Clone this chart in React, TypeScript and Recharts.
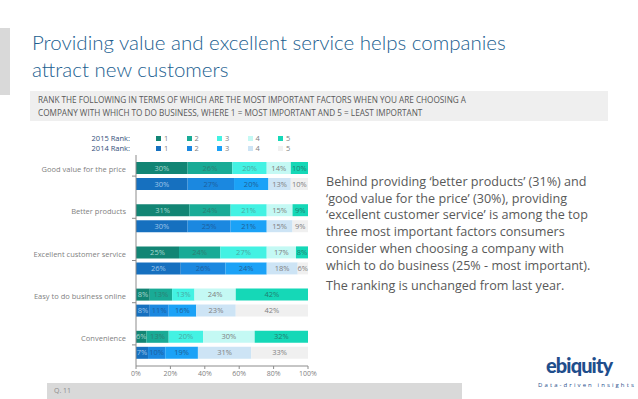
import React from 'react';
import { BarChart, Bar, XAxis, YAxis, LabelList } from 'recharts';

// categories and rank shares (%)
const categories = [
  'Good value for the price',
  'Better products',
  'Excellent customer service',
  'Easy to do business online',
  'Convenience',
];
const rank2015 = [
  [30, 26, 20, 14, 10],
  [31, 24, 21, 15, 9],
  [25, 24, 27, 17, 8],
  [8, 13, 13, 24, 42],
  [6, 13, 20, 30, 32],
];
const rank2014 = [
  [30, 27, 20, 13, 10],
  [30, 25, 21, 15, 9],
  [26, 26, 24, 18, 6],
  [8, 11, 16, 23, 42],
  [7, 10, 19, 31, 33],
];
const rankLabels = ['1', '2', '3', '4', '5'];
const xTicks = [0, 20, 40, 60, 80, 100];

const colors2015 = ['#128574', '#19ab96', '#43f2e3', '#c4f9f4', '#15d8b7'];
const colors2014 = ['#1670bf', '#1b88e0', '#1ba2f7', '#cde4f5', '#f0f0f0'];
const text2015 = ['#a6d8d0', '#2d7f74', '#4aa9a1', '#808080', '#207f70'];
const text2014 = ['#9fc6ea', '#1d5f9e', '#1f5f96', '#808080', '#808080'];

const data = categories.map((name, i) => {
  const row: Record<string, any> = { name };
  rank2015[i].forEach((v, k) => (row[`a${k}`] = v));
  rank2014[i].forEach((v, k) => (row[`b${k}`] = v));
  return row;
});

const font = '"Open Sans", "Noto Sans", sans-serif';

const CatTick = (props: any) => {
  const { x, y, payload } = props;
  return (
    <text x={x - 4} y={y - 7} textAnchor="end" dominantBaseline="central" fontSize={7.5} fill="#7f7f7f" fontFamily={font}>
      {payload.value}
    </text>
  );
};

const Legend: React.FC = () => {
  const row = (title: string, cols: string[], top: number) => (
    <div style={{ position: 'absolute', left: 60, top, height: 10, width: 260, fontSize: 7.5, lineHeight: '10px', color: '#33507a' }}>
      <span style={{ position: 'absolute', right: 190, whiteSpace: 'nowrap' }}>{title}</span>
      {rankLabels.map((r, k) => (
        <span key={r} style={{ position: 'absolute', left: 96 + k * 30.5, whiteSpace: 'nowrap', color: '#7f7f7f' }}>
          <span style={{ display: 'inline-block', width: 5, height: 5, background: cols[k], marginRight: 3 }} />
          {r}
        </span>
      ))}
    </div>
  );
  return (
    <>
      {row('2015 Rank:', colors2015, 133)}
      {row('2014 Rank:', colors2014, 143)}
    </>
  );
};

const App: React.FC = () => {
  return (
    <div style={{ position: 'fixed', left: 0, top: 0, width: 638, height: 399, background: '#fff', overflow: 'hidden', fontFamily: font }}>
      <div style={{ position: 'absolute', left: 0, top: 28, width: 10, height: 67, background: '#d9d9d9' }} />
      <div style={{ position: 'absolute', left: 32, top: 29, fontSize: 20.5, lineHeight: '27px', color: '#215e8f', fontWeight: 300, whiteSpace: 'nowrap', fontFamily: 'Lato, "Open Sans", sans-serif' }}>
        Providing value and excellent service helps companies
        <br />
        attract new customers
      </div>
      <div style={{ position: 'absolute', left: 30, top: 91, width: 578, height: 30, background: '#efefef' }} />
      <div style={{ position: 'absolute', left: 38, top: 93, fontSize: 8.2, lineHeight: '13px', color: '#595959', whiteSpace: 'nowrap' }}>
        RANK THE FOLLOWING IN TERMS OF WHICH ARE THE MOST IMPORTANT FACTORS WHEN YOU ARE CHOOSING A
        <br />
        COMPANY WITH WHICH TO DO BUSINESS, WHERE 1 = MOST IMPORTANT AND 5 = LEAST IMPORTANT
      </div>
      <Legend />
      <div style={{ position: 'absolute', left: 0, top: 150 }}>
        <BarChart
          width={320}
          height={240}
          data={data}
          layout="vertical"
          margin={{ top: 5, right: 12, left: 0, bottom: 4 }}
          barSize={12}
          barGap={4}
        >
          <XAxis
            type="number"
            domain={[0, 100]}
            ticks={xTicks}
            allowDataOverflow
            tickFormatter={(v: number) => `${v}%`}
            tick={{ fontSize: 7, fill: '#7f7f7f', fontFamily: font }}
            stroke="#8c8c8c"
            tickSize={3}
            height={20}
          />
          <YAxis
            type="category"
            dataKey="name"
            width={136}
            tick={<CatTick />}
            stroke="#8c8c8c"
            tickSize={4}
            interval={0}
          />
          {rankLabels.map((r, k) => (
            <Bar key={`a${k}`} dataKey={`a${k}`} stackId="y2015" fill={colors2015[k]} isAnimationActive={false}>
              <LabelList dataKey={`a${k}`} position="center" formatter={(v: any) => `${v}%`} fontSize={7.5} fill={text2015[k]} fontFamily={font} />
            </Bar>
          ))}
          {rankLabels.map((r, k) => (
            <Bar key={`b${k}`} dataKey={`b${k}`} stackId="y2014" fill={colors2014[k]} isAnimationActive={false}>
              <LabelList dataKey={`b${k}`} position="center" formatter={(v: any) => `${v}%`} fontSize={7.5} fill={text2014[k]} fontFamily={font} />
            </Bar>
          ))}
        </BarChart>
      </div>
      <div style={{ position: 'absolute', left: 326, top: 174, fontSize: 12.6, lineHeight: '16.7px', color: '#595959', whiteSpace: 'nowrap' }}>
        Behind providing ‘better products’ (31%) and
        <br />
        ‘good value for the price’ (30%), providing
        <br />
        ‘excellent customer service’ is among the top
        <br />
        three most important factors consumers
        <br />
        consider when choosing a company with
        <br />
        which to do business (25% - most important).
        <div style={{ marginTop: 4 }}>The ranking is unchanged from last year.</div>
      </div>
      <div style={{ position: 'absolute', left: 47, top: 383, width: 415, height: 16, background: '#d9d9d9' }} />
      <div style={{ position: 'absolute', left: 54, top: 385, fontSize: 7, lineHeight: '12px', color: '#8c8c8c' }}>Q. 11</div>
      <div style={{ position: 'absolute', left: 546, top: 353, fontSize: 20, lineHeight: '24px', fontWeight: 900, color: '#1f4e8c', letterSpacing: -0.9, fontFamily: 'Lato, "Open Sans", sans-serif' }}>
        ebiquity
      </div>
      <div style={{ position: 'absolute', left: 538, top: 380, fontSize: 6, lineHeight: '10px', color: '#1f4e8c', letterSpacing: 2.1, whiteSpace: 'nowrap' }}>
        Data-driven insights
      </div>
    </div>
  );
};

export default App;
